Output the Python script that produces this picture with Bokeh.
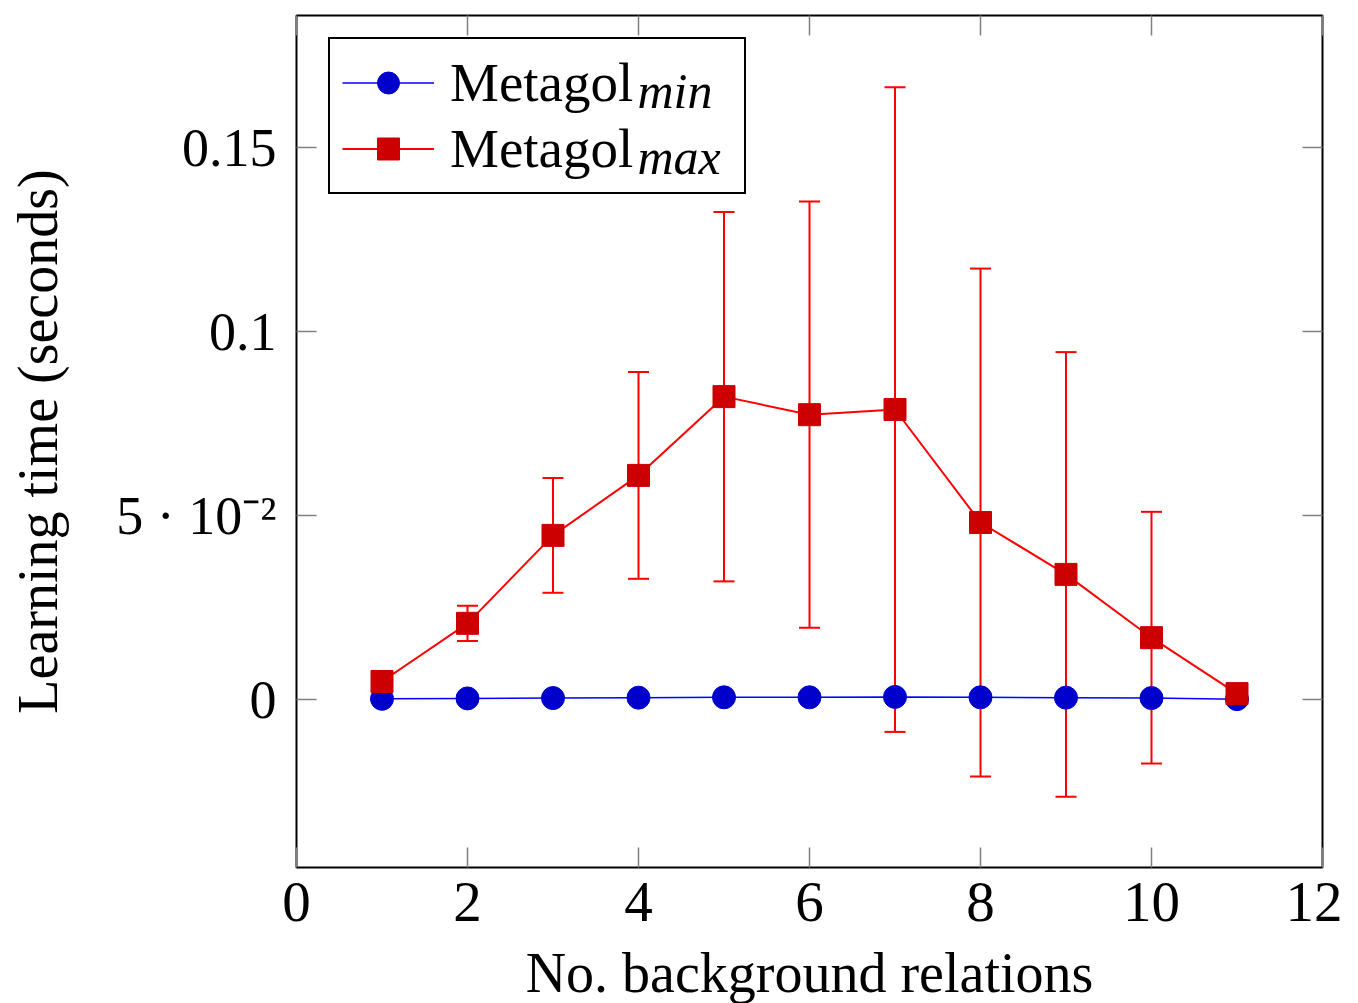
from bokeh.plotting import figure
from bokeh.models import (Range1d, FixedTicker, LinearAxis, Whisker, TeeHead,
                          ColumnDataSource, Legend, LegendItem, Label,
                          CustomJSTickFormatter)
from bokeh.embed import file_html
from bokeh.resources import INLINE

# ---- data ----
n_relations = [1, 2, 3, 4, 5, 6, 7, 8, 9, 10, 11]
metagol_min = [0.0002, 0.0003, 0.0004, 0.0005, 0.0006, 0.0006, 0.0007, 0.0006, 0.0005, 0.0004, 0.0001]
metagol_max = [0.0049, 0.0207, 0.0446, 0.0609, 0.0823, 0.0774, 0.0788, 0.0481, 0.0340, 0.0168, 0.0016]
metagol_max_err = [0.0008, 0.0048, 0.0156, 0.0281, 0.0502, 0.0579, 0.0876, 0.0690, 0.0604, 0.0342, 0.0005]
x_ticks = [0, 2, 4, 6, 8, 10, 12]
y_ticks = [0, 0.05, 0.1, 0.15]
y_tick_labels = ["0", "5 \u00b7 10\u207b\u00b2", "0.1", "0.15"]
series_names = ["Metagol", "Metagol"]
series_subscripts = ["min", "max"]

FONT = "Liberation Serif"
TICK_GREY = "#808080"

src = ColumnDataSource(dict(
    x=n_relations,
    mn=metagol_min,
    mx=metagol_max,
    upper=[m + e for m, e in zip(metagol_max, metagol_max_err)],
    lower=[m - e for m, e in zip(metagol_max, metagol_max_err)],
))

p = figure(frame_width=1026, frame_height=852,
           x_range=Range1d(0, 12), y_range=Range1d(-0.04565, 0.18587),
           output_backend="svg", toolbar_location=None,
           min_border_left=296, min_border_right=20,
           min_border_top=15, min_border_bottom=60,
           x_axis_label="No. background relations",
           y_axis_label="Learning time (seconds)")
p.xgrid.visible = False
p.ygrid.visible = False
p.outline_line_color = "black"
p.outline_line_width = 2
p.outline_line_alpha = 1
p.background_fill_color = "white"
p.border_fill_color = "white"


def style_axis(ax, ticks, tick_font="54px"):
    ax.ticker = FixedTicker(ticks=ticks)
    ax.axis_line_color = None
    ax.major_tick_in = 20
    ax.major_tick_out = 0
    ax.major_tick_line_color = TICK_GREY
    ax.major_tick_line_width = 1.5
    ax.minor_tick_line_color = None
    ax.major_label_text_font = FONT
    ax.major_label_text_font_size = tick_font
    ax.major_label_text_color = "black"
    ax.axis_label_text_font = FONT
    ax.axis_label_text_font_size = "56px"
    ax.axis_label_text_font_style = "normal"
    ax.axis_label_text_color = "black"


xa = p.xaxis[0]
ya = p.yaxis[0]
style_axis(xa, x_ticks, "57px")
style_axis(ya, y_ticks, "54px")
xa.major_label_standoff = 15
xa.axis_label_standoff = 18
ya.major_label_standoff = 20
ya.axis_label_standoff = 44
ya.formatter = CustomJSTickFormatter(
    args=dict(yt=y_ticks, yl=y_tick_labels),
    code="const i = yt.findIndex(t => Math.abs(t - tick) < 1e-9); return i >= 0 ? yl[i] : String(tick);")

# mirrored ticks (top and right)
for loc, tks in (("above", x_ticks), ("right", y_ticks)):
    ax = LinearAxis()
    style_axis(ax, tks)
    ax.formatter = CustomJSTickFormatter(code="return '';")
    ax.major_label_text_font_size = "0px"
    ax.major_label_standoff = 0
    p.add_layout(ax, loc)

# error bars
whisk = Whisker(source=src, base="x", upper="upper", lower="lower",
                line_color="red", line_width=2, level="underlay",
                upper_head=TeeHead(size=21, line_color="red", line_width=2),
                lower_head=TeeHead(size=21, line_color="red", line_width=2))
p.add_layout(whisk)

bl = p.line("x", "mn", source=src, line_color="blue", line_width=1.5)
rl = p.line("x", "mx", source=src, line_color="red", line_width=2)
bm = p.scatter("x", "mn", source=src, marker="circle", size=23,
               fill_color="#0000cc", line_color="#0000cc")
rm = p.scatter("x", "mx", source=src, marker="square", size=22,
               fill_color="#cc0000", line_color="#cc0000")

legend = Legend(items=[LegendItem(label=series_names[0], renderers=[bl, bm]),
                       LegendItem(label=series_names[1], renderers=[rl, rm])],
                location=(32, 673), padding=12, spacing=3, margin=0,
                glyph_width=92, glyph_height=55, label_height=62,
                label_width=282, label_standoff=16,
                label_text_font=FONT, label_text_font_size="55px",
                label_text_color="black",
                border_line_color="black", border_line_width=2,
                border_line_alpha=1,
                background_fill_color="white", background_fill_alpha=0)
p.add_layout(legend)

for txt, yb in zip(series_subscripts, (0.16522, 0.14755)):
    p.add_layout(Label(x=3.988, y=yb, text=txt, text_font=FONT,
                       text_font_style="italic", text_font_size="50px",
                       text_baseline="alphabetic", text_align="left",
                       text_color="black"))

open("out.html", "w").write(file_html(p, INLINE))
